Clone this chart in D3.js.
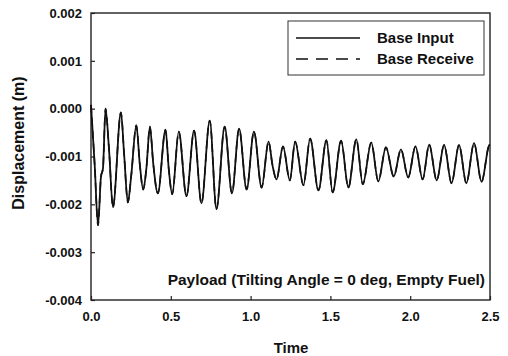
<!DOCTYPE html>
<html>
<head>
<meta charset="utf-8">
<script src="https://cdn.jsdelivr.net/npm/d3@7"></script>
<style>
  body { margin: 0; background: #fff; }
  svg text { font-family: Arial, "Liberation Sans", sans-serif; font-weight: bold; fill: #111; }
</style>
</head>
<body>
<div id="chart"></div>
<script>
// time (s) of each read point
const times = [0.000, 0.023, 0.044, 0.0625, 0.075, 0.091, 0.1125, 0.1375, 0.1875, 0.208,
    0.231, 0.252, 0.284, 0.306, 0.327, 0.347, 0.369, 0.39, 0.419, 0.467,
    0.4875, 0.509, 0.55, 0.598, 0.646, 0.692, 0.744, 0.786, 0.8375, 0.883,
    0.928, 0.975, 1.021, 1.069, 1.1125, 1.1375, 1.1625, 1.203, 1.246, 1.279,
    1.331, 1.373, 1.425, 1.475, 1.514, 1.567, 1.6125, 1.6625, 1.703, 1.756,
    1.80, 1.848, 1.897, 1.942, 1.9875, 2.033, 2.078, 2.119, 2.166, 2.2125,
    2.259, 2.306, 2.352, 2.40, 2.447, 2.494, 2.5];

// displacement (mm -> *1e-3 m)
const baseInput = [0.08, -1.17, -2.44, -1.42, -1.25, 0.0, -0.83, -2.06, -0.08, -0.98,
    -1.96, -1.40, -0.35, -1.17, -1.69, -1.25, -0.375, -1.15, -1.77, -0.44,
    -1.27, -1.79, -0.48, -1.83, -0.46, -1.98, -0.25, -2.10, -0.375, -1.77,
    -0.42, -1.69, -0.48, -1.65, -0.69, -1.19, -1.48, -0.79, -1.50, -0.69,
    -1.60, -0.625, -1.71, -0.66, -1.75, -0.67, -1.65, -0.64, -1.58, -0.71,
    -1.52, -0.81, -1.42, -0.85, -1.44, -0.79, -1.48, -0.75, -1.50, -0.76,
    -1.56, -0.76, -1.56, -0.72, -1.53, -0.77, -0.75];

const baseReceive = [0.08, -1.17, -2.44, -1.42, -1.25, 0.0, -0.83, -2.06, -0.08, -0.98,
    -1.96, -1.40, -0.35, -1.17, -1.69, -1.25, -0.375, -1.15, -1.77, -0.44,
    -1.27, -1.79, -0.48, -1.83, -0.46, -1.98, -0.25, -2.10, -0.375, -1.77,
    -0.42, -1.69, -0.48, -1.65, -0.69, -1.19, -1.48, -0.79, -1.50, -0.69,
    -1.60, -0.625, -1.71, -0.66, -1.75, -0.67, -1.65, -0.64, -1.58, -0.71,
    -1.52, -0.81, -1.42, -0.85, -1.44, -0.79, -1.48, -0.75, -1.50, -0.76,
    -1.56, -0.76, -1.56, -0.72, -1.53, -0.77, -0.75];

const xTicks = [0, 0.5, 1.0, 1.5, 2.0, 2.5];
const yTicks = [0.002, 0.001, 0, -0.001, -0.002, -0.003, -0.004];
const seriesNames = ["Base Input", "Base Receive"];

let width = 508;
let height = 356;
let margin = {left: 91, top: 13, right: 18, bottom: 56};
let plotW = width - margin.left - margin.right;
let plotH = height - margin.top - margin.bottom;

let svg = d3.select("#chart")
    .append("svg")
    .attr("width", width)
    .attr("height", height);

let xScale = d3.scaleLinear().domain([0, 2.5]).range([0, plotW]);
let yScale = d3.scaleLinear().domain([-0.004, 0.002]).range([plotH, 0]);

let g = svg.append("g")
    .attr("transform", `translate(${margin.left}, ${margin.top})`);

// plain hyphen for negatives, like the original
let fmtX = d3.format(".1f");
let fmtY = function(d) { return d3.format(".3f")(d).replace("\u2212", "-"); };

// axes, ticks inside
let xAxis = d3.axisBottom(xScale)
    .tickValues(xTicks)
    .tickSize(-4)
    .tickPadding(12)
    .tickFormat(fmtX);

let yAxis = d3.axisLeft(yScale)
    .tickValues(yTicks)
    .tickSize(-4)
    .tickPadding(9)
    .tickFormat(fmtY);

let gx = g.append("g")
    .attr("transform", `translate(0, ${plotH})`)
    .call(xAxis);
let gy = g.append("g").call(yAxis);

[gx, gy].forEach(function(a) {
    a.select(".domain").remove();
    a.selectAll("line").attr("stroke", "#222").attr("stroke-width", 1.2);
    a.selectAll("text").style("font-size", "13px").attr("fill", "#111");
});

// frame
g.append("rect")
    .attr("width", plotW)
    .attr("height", plotH)
    .attr("fill", "none")
    .attr("stroke", "#222")
    .attr("stroke-width", 1.4);

// lines
let line = function(vals) {
    return d3.line()
        .x(function(d, i) { return xScale(times[i]); })
        .y(function(d) { return yScale(d * 1e-3); })
        .curve(d3.curveMonotoneX)(vals);
};

g.append("path")
    .attr("d", line(baseInput))
    .attr("fill", "none")
    .attr("stroke", "#111")
    .attr("stroke-width", 1.8)
    .attr("stroke-linejoin", "round");

g.append("path")
    .attr("d", line(baseReceive))
    .attr("fill", "none")
    .attr("stroke", "#111")
    .attr("stroke-width", 1.6)
    .attr("stroke-dasharray", "8,5");

// legend
let lg = svg.append("g");
lg.append("rect")
    .attr("x", 288).attr("y", 21)
    .attr("width", 196).attr("height", 54)
    .attr("fill", "#fff")
    .attr("stroke", "#333")
    .attr("stroke-width", 1);

seriesNames.forEach(function(name, i) {
    let y = 38 + i * 21;
    lg.append("line")
        .attr("x1", 296).attr("x2", 360)
        .attr("y1", y).attr("y2", y)
        .attr("stroke", "#111")
        .attr("stroke-width", 1.5)
        .attr("stroke-dasharray", i == 0 ? null : "12,8");
    lg.append("text")
        .attr("x", 377).attr("y", y + 5)
        .style("font-size", "15px")
        .text(name);
});

// annotation
svg.append("text")
    .attr("x", 485).attr("y", 285)
    .attr("text-anchor", "end")
    .style("font-size", "15.5px")
    .text("Payload (Tilting Angle = 0 deg, Empty Fuel)");

// axis titles
svg.append("text")
    .attr("x", 291)
    .attr("y", 353)
    .attr("text-anchor", "middle")
    .style("font-size", "15px")
    .text("Time");

svg.append("text")
    .attr("transform", `translate(24, 143) rotate(-90)`)
    .attr("text-anchor", "middle")
    .style("font-size", "16px")
    .text("Displacement (m)");
</script>
</body>
</html>
